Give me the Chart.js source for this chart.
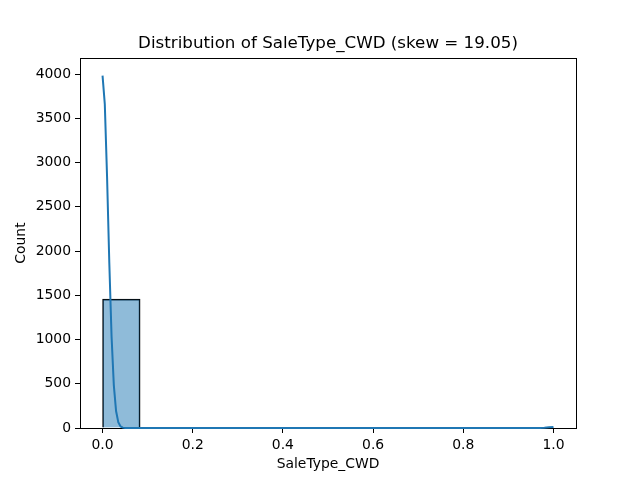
<!DOCTYPE html>
<html>
<head>
<meta charset="utf-8">
<script src="https://cdn.jsdelivr.net/npm/chart.js@4"></script>
<style>
html,body{margin:0;padding:0;background:#fff;}
#wrap{width:640px;height:480px;}
</style>
</head>
<body>
<div id="wrap"><canvas id="c" width="640" height="480"></canvas></div>
<script>
// Histogram bins (12 bins from 0 to 1), bin centers and counts
const binCenters = [0.0417,0.125,0.2083,0.2917,0.375,0.4583,0.5417,0.625,0.7083,0.7917,0.875,0.9583];
const binCounts  = [1456,0,0,0,0,0,0,0,0,0,0,4];
// KDE curve (x, count)
const kdeX = [0,0.005,0.01,0.015,0.02,0.025,0.03,0.035,0.04,0.045,0.05,0.06,0.1,0.5,0.9,0.96,0.97,0.98,0.99,1.0];
const kdeY = [3982,3660,2843,1865,1034,485,192,64,18,4.3,0.9,0,0,0,0,0.05,0.5,2.8,7.8,10.9];
// Tick labels
const xTicks = [0,0.2,0.4,0.6,0.8,1.0];
const yTicks = [0,500,1000,1500,2000,2500,3000,3500,4000];

const FONT = 'DejaVu Sans';
const frame = {
  id:'frame',
  beforeDatasetsDraw(chart){
    const {ctx, chartArea:a} = chart;
    ctx.save();
    ctx.strokeStyle='#000'; ctx.lineWidth=1;
    ctx.strokeRect(Math.round(a.left)+0.5, Math.round(a.top)+0.5, Math.round(a.right-a.left), Math.round(a.bottom-a.top));
    ctx.restore();
  }
};

new Chart(document.getElementById('c'), {
  type:'bar',
  data:{
    datasets:[
      {
        type:'line',
        data:kdeX.map((x,i)=>({x:x,y:kdeY[i]})),
        borderColor:'#1f77b4',
        borderWidth:2,
        pointRadius:0,
        tension:0,
        fill:false,
        clip:4,
        order:0
      },
      {
        type:'bar',
        data:binCenters.map((x,i)=>({x:x,y:binCounts[i]})),
        backgroundColor:'rgba(31,119,180,0.5)',
        borderColor:'#000',
        borderWidth:1,
        barPercentage:1,
        categoryPercentage:1,
        order:1
      }
    ]
  },
  options:{
    responsive:false,
    animation:false,
    devicePixelRatio:1,
    layout:{padding:{left:0,right:64,top:0,bottom:0}},
    plugins:{
      legend:{display:false},
      tooltip:{enabled:false},
      title:{
        display:true,
        fullSize:false,
        text:'Distribution of SaleType_CWD (skew = 19.05)',
        color:'#000',
        font:{family:FONT,size:16.7,weight:'normal',lineHeight:1.2},
        padding:{top:34,bottom:4}
      }
    },
    scales:{
      x:{
        type:'linear',
        offset:false,
        min:-0.05,max:1.05,
        afterBuildTicks(s){ s.ticks = xTicks.map(v=>({value:v})); },
        afterFit(s){ s.height = 52; },
        ticks:{color:'#000',font:{family:FONT,size:13.9},padding:4,maxRotation:0,autoSkip:false,
          callback:(v)=>Number(v).toFixed(1)},
        grid:{display:true,offset:false,drawOnChartArea:false,drawTicks:true,tickLength:5,color:'#000',tickWidth:1},
        border:{display:true,color:'#000',width:1},
        title:{display:true,text:'SaleType_CWD',color:'#000',font:{family:FONT,size:13.9,lineHeight:1.2},padding:{top:0,bottom:7.5}}
      },
      y:{
        type:'linear',
        min:0,max:4181,
        afterBuildTicks(s){ s.ticks = yTicks.map(v=>({value:v})); },
        afterFit(s){ s.width = 80; },
        ticks:{color:'#000',font:{family:FONT,size:13.9},padding:4,autoSkip:false,
          callback:(v)=>String(v)},
        grid:{display:true,drawOnChartArea:false,drawTicks:true,tickLength:5,color:'#000',tickWidth:1},
        border:{display:true,color:'#000',width:1},
        title:{display:true,text:'Count',color:'#000',font:{family:FONT,size:13.9,lineHeight:1.2},padding:{top:13.5,bottom:0}}
      }
    }
  },
  plugins:[frame]
});
</script>
</body>
</html>
